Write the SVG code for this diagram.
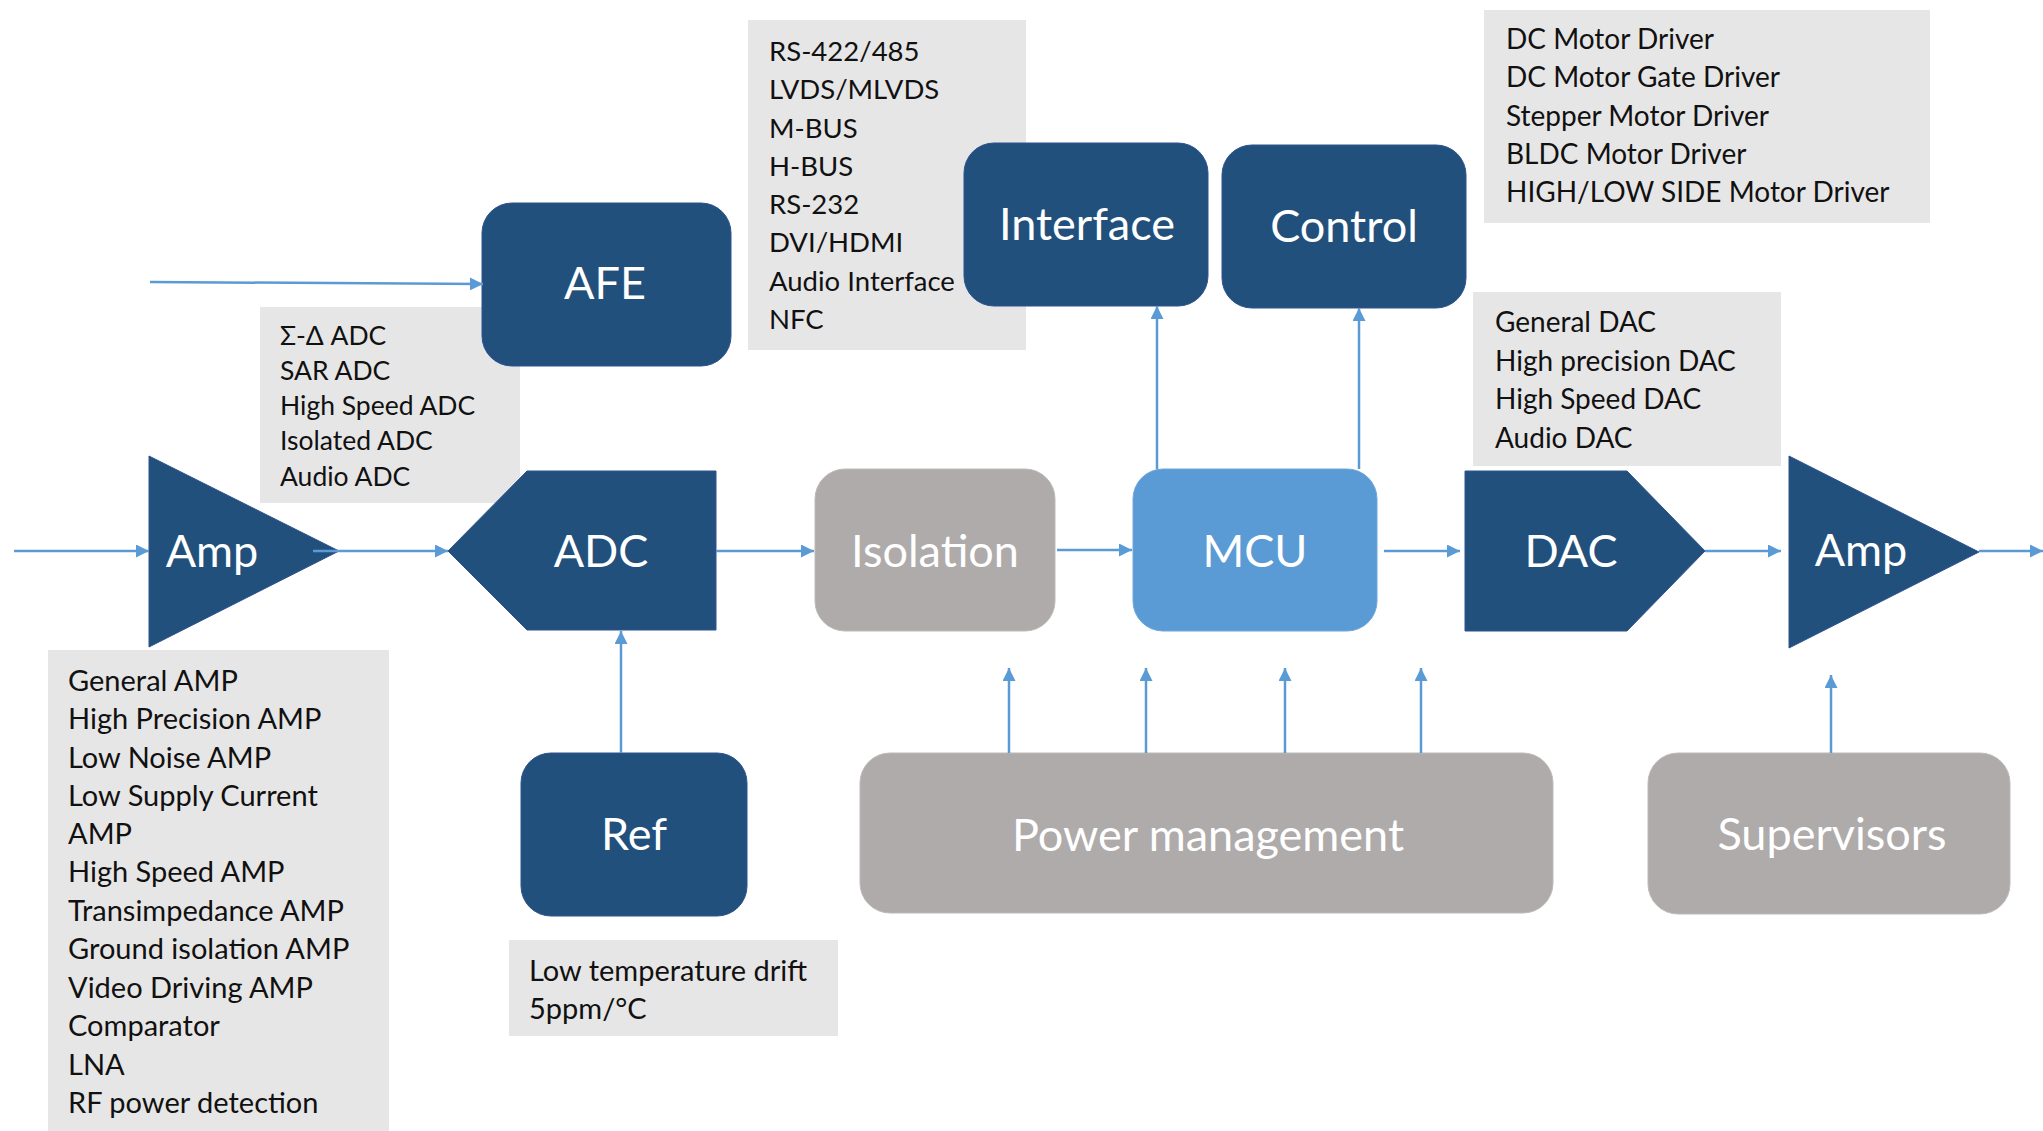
<svg xmlns="http://www.w3.org/2000/svg" width="2043" height="1131" viewBox="0 0 2043 1131">
<defs>
<marker id="arr" viewBox="0 0 10 10" refX="10" refY="5" markerWidth="13" markerHeight="13" markerUnits="userSpaceOnUse" orient="auto">
<path d="M0,0 L10,5 L0,10 Z" fill="#5B9BD5"/>
</marker>
<style>
.dk{fill:#22507C;stroke:#2F528F;stroke-width:1}
.gr{fill:#AEABAA;stroke:#BDBAB9;stroke-width:1}
.mcu{fill:#5B9BD5;stroke:#6FA6DA;stroke-width:1}
.note{fill:#E7E6E6}
.lbl{font-family:Lato,"Open Sans","Liberation Sans",sans-serif;font-size:45px;fill:#FFFFFF;text-anchor:middle}
.lst{font-family:Lato,"Open Sans","Liberation Sans",sans-serif;font-size:28px;fill:#111111}
.lst2{font-family:Lato,"Open Sans","Liberation Sans",sans-serif;font-size:26.5px;fill:#111111}
.lst3{font-family:Lato,"Open Sans","Liberation Sans",sans-serif;font-size:29px;fill:#111111}
.lst4{font-family:Lato,"Open Sans","Liberation Sans",sans-serif;font-size:27.5px;fill:#111111}
.cn{stroke:#5B9BD5;stroke-width:2.5;fill:none;marker-end:url(#arr)}
</style>
</defs>
<rect width="2043" height="1131" fill="#FFFFFF"/>

<g id="note-adc">
<rect class="note" x="260" y="307" width="260" height="196"/>
<text class="lst2" x="280"><tspan x="280" y="345">Σ-Δ ADC</tspan><tspan x="280" y="380">SAR ADC</tspan><tspan x="280" y="415">High Speed ADC</tspan><tspan x="280" y="450">Isolated ADC</tspan><tspan x="280" y="486">Audio ADC</tspan></text>
</g>
<g id="note-amp">
<rect class="note" x="48" y="650" width="341" height="481"/>
<text class="lst3" x="68"><tspan x="68" y="691">General AMP</tspan><tspan x="68" y="729">High Precision AMP</tspan><tspan x="68" y="768">Low Noise AMP</tspan><tspan x="68" y="806">Low Supply Current</tspan><tspan x="68" y="844">AMP</tspan><tspan x="68" y="882">High Speed AMP</tspan><tspan x="68" y="921">Transimpedance AMP</tspan><tspan x="68" y="959">Ground isolation AMP</tspan><tspan x="68" y="998">Video Driving AMP</tspan><tspan x="68" y="1036">Comparator</tspan><tspan x="68" y="1075">LNA</tspan><tspan x="68" y="1113">RF power detection</tspan></text>
</g>
<g id="note-interface">
<rect class="note" x="748" y="20" width="278" height="330"/>
<text class="lst4" x="769"><tspan x="769" y="61">RS-422/485</tspan><tspan x="769" y="99">LVDS/MLVDS</tspan><tspan x="769" y="138">M-BUS</tspan><tspan x="769" y="176">H-BUS</tspan><tspan x="769" y="214">RS-232</tspan><tspan x="769" y="252">DVI/HDMI</tspan><tspan x="769" y="291">Audio Interface</tspan><tspan x="769" y="329">NFC</tspan></text>
</g>
<g id="note-control">
<rect class="note" x="1484" y="10" width="446" height="213"/>
<text class="lst" x="1506"><tspan x="1506" y="49">DC Motor Driver</tspan><tspan x="1506" y="87">DC Motor Gate Driver</tspan><tspan x="1506" y="126">Stepper Motor Driver</tspan><tspan x="1506" y="164">BLDC Motor Driver</tspan><tspan x="1506" y="202">HIGH/LOW SIDE Motor Driver</tspan></text>
</g>
<g id="note-dac">
<rect class="note" x="1473" y="292" width="308" height="174"/>
<text class="lst" x="1495"><tspan x="1495" y="332">General DAC</tspan><tspan x="1495" y="371">High precision DAC</tspan><tspan x="1495" y="409">High Speed DAC</tspan><tspan x="1495" y="448">Audio DAC</tspan></text>
</g>
<g id="note-ref">
<rect class="note" x="509" y="940" width="329" height="96"/>
<text class="lst3" x="529"><tspan x="529" y="981">Low temperature drift</tspan><tspan x="529" y="1019">5ppm/°C</tspan></text>
</g>

<g id="amp1">
<polygon class="dk" points="149,456 339,551 149,647"/>
<text class="lbl" x="212" y="567">Amp</text>
</g>
<g id="afe">
<rect class="dk" x="482" y="203" width="249" height="163" rx="30"/>
<text class="lbl" x="605" y="299">AFE</text>
</g>
<g id="adc">
<polygon class="dk" points="448,551 527,471 716,471 716,630 527,630"/>
<text class="lbl" x="601" y="567">ADC</text>
</g>
<g id="isolation">
<rect class="gr" x="815" y="469" width="240" height="162" rx="30"/>
<text class="lbl" x="935" y="567">Isolation</text>
</g>
<g id="mcu">
<rect class="mcu" x="1133" y="469" width="244" height="162" rx="30"/>
<text class="lbl" x="1255" y="567">MCU</text>
</g>
<g id="dac">
<polygon class="dk" points="1465,471 1627,471 1705,551 1627,631 1465,631"/>
<text class="lbl" x="1571" y="567">DAC</text>
</g>
<g id="amp2">
<polygon class="dk" points="1789,456 1979,552 1789,648"/>
<text class="lbl" x="1861" y="566">Amp</text>
</g>
<g id="interface">
<rect class="dk" x="964" y="143" width="244" height="163" rx="30"/>
<text class="lbl" x="1087" y="240">Interface</text>
</g>
<g id="control">
<rect class="dk" x="1222" y="145" width="244" height="163" rx="30"/>
<text class="lbl" x="1344" y="242">Control</text>
</g>
<g id="ref">
<rect class="dk" x="521" y="753" width="226" height="163" rx="30"/>
<text class="lbl" x="634" y="850">Ref</text>
</g>
<g id="power">
<rect class="gr" x="860" y="753" width="693" height="160" rx="30"/>
<text class="lbl" x="1208" y="851">Power management</text>
</g>
<g id="supervisors">
<rect class="gr" x="1648" y="753" width="362" height="161" rx="30"/>
<text class="lbl" x="1832" y="850">Supervisors</text>
</g>

<g id="connectors">
<line class="cn" x1="14" y1="551" x2="149" y2="551"/>
<line class="cn" x1="313" y1="551" x2="448" y2="551"/>
<line class="cn" x1="150" y1="282" x2="483" y2="284"/>
<line class="cn" x1="716" y1="551" x2="814" y2="551"/>
<line class="cn" x1="1057" y1="550" x2="1132" y2="550"/>
<line class="cn" x1="1384" y1="551" x2="1460" y2="551"/>
<line class="cn" x1="1705" y1="551" x2="1781" y2="551"/>
<line class="cn" x1="1979" y1="551" x2="2043" y2="551"/>
<line class="cn" x1="621" y1="753" x2="621" y2="631"/>
<line class="cn" x1="1157" y1="469" x2="1157" y2="306"/>
<line class="cn" x1="1359" y1="469" x2="1359" y2="308"/>
<line class="cn" x1="1009" y1="753" x2="1009" y2="668"/>
<line class="cn" x1="1146" y1="753" x2="1146" y2="668"/>
<line class="cn" x1="1285" y1="753" x2="1285" y2="668"/>
<line class="cn" x1="1421" y1="753" x2="1421" y2="668"/>
<line class="cn" x1="1831" y1="753" x2="1831" y2="675"/>
</g>
</svg>
